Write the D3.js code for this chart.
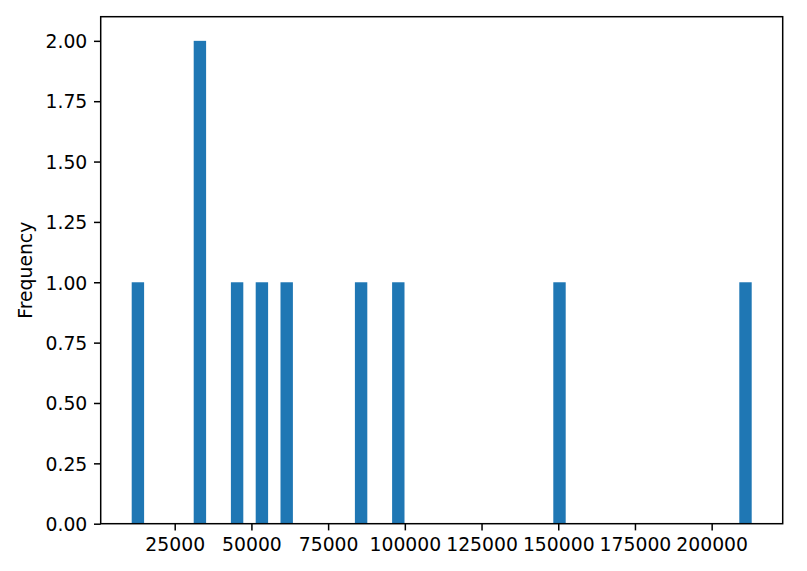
<!DOCTYPE html>
<html>
<head>
<meta charset="utf-8">
<script src="https://cdn.jsdelivr.net/npm/d3@7"></script>
<style>
  html, body { margin: 0; padding: 0; background: #fff; }
  text { font-family: "DejaVu Sans", sans-serif; }
</style>
</head>
<body>
<svg id="chart" width="807" height="571"></svg>
<script>
// Histogram data (50 equal-width bins between dataMin and dataMax)
const dataMin = 10983;
const dataMax = 213047;
const binCounts = [
  1,0,0,0,0, 2,0,0,1,0,
  1,0,1,0,0, 0,0,0,1,0,
  0,1,0,0,0, 0,0,0,0,0,
  0,0,0,0,1, 0,0,0,0,0,
  0,0,0,0,0, 0,0,0,0,1
];
const xTickValues = [25000, 50000, 75000, 100000, 125000, 150000, 175000, 200000];
const yTickValues = [0, 0.25, 0.5, 0.75, 1.0, 1.25, 1.5, 1.75, 2.0];
const yLabel = "Frequency";

const svg = d3.select("#chart");
const plotLeft = 100.7, plotRight = 782.7, plotTop = 16.7, plotBottom = 523.7;
const fs = 18.8;
const tickLen = 6.7, pad = 6.7;

const nBins = binCounts.length;
const binW = (dataMax - dataMin) / nBins;
const bins = binCounts.map((c, i) => ({ x0: dataMin + i * binW, x1: dataMin + (i + 1) * binW, count: c }));

const span = dataMax - dataMin;
const x = d3.scaleLinear().domain([dataMin - 0.05 * span, dataMax + 0.05 * span]).range([plotLeft, plotRight]);
const yMax = d3.max(binCounts);
const y = d3.scaleLinear().domain([0, yMax * 1.05]).range([plotBottom, plotTop]);

// bars
svg.append("g").selectAll("rect")
  .data(bins.filter(b => b.count > 0))
  .join("rect")
  .attr("x", d => x(d.x0))
  .attr("width", d => x(d.x1) - x(d.x0))
  .attr("y", d => y(d.count))
  .attr("height", d => y(0) - y(d.count))
  .attr("fill", "#1f77b4");

// x axis
const xAxis = d3.axisBottom(x).tickValues(xTickValues).tickFormat(d3.format("d"))
  .tickSize(tickLen).tickPadding(pad);
const gx = svg.append("g").attr("transform", `translate(0,${plotBottom})`).call(xAxis);
gx.select(".domain").remove();
gx.selectAll(".tick line").attr("stroke", "#000").attr("stroke-width", 1.5);
gx.selectAll(".tick text").attr("font-size", fs).attr("fill", "#000")
  .attr("font-family", "DejaVu Sans").attr("dy", "0.73em");

// y axis
const yAxis = d3.axisLeft(y).tickValues(yTickValues).tickFormat(d3.format(".2f"))
  .tickSize(tickLen).tickPadding(pad);
const gy = svg.append("g").attr("transform", `translate(${plotLeft},0)`).call(yAxis);
gy.select(".domain").remove();
gy.selectAll(".tick line").attr("stroke", "#000").attr("stroke-width", 1.5);
gy.selectAll(".tick text").attr("font-size", fs).attr("fill", "#000")
  .attr("font-family", "DejaVu Sans").attr("dy", "0.36em");

// frame
svg.append("rect")
  .attr("x", plotLeft).attr("y", plotTop)
  .attr("width", plotRight - plotLeft).attr("height", plotBottom - plotTop)
  .attr("fill", "none").attr("stroke", "#000").attr("stroke-width", 1.5);

// y label
svg.append("text")
  .attr("transform", `translate(32,${(plotTop + plotBottom) / 2}) rotate(-90)`)
  .attr("text-anchor", "middle")
  .attr("font-size", fs)
  .attr("fill", "#000")
  .text(yLabel);
</script>
</body>
</html>
